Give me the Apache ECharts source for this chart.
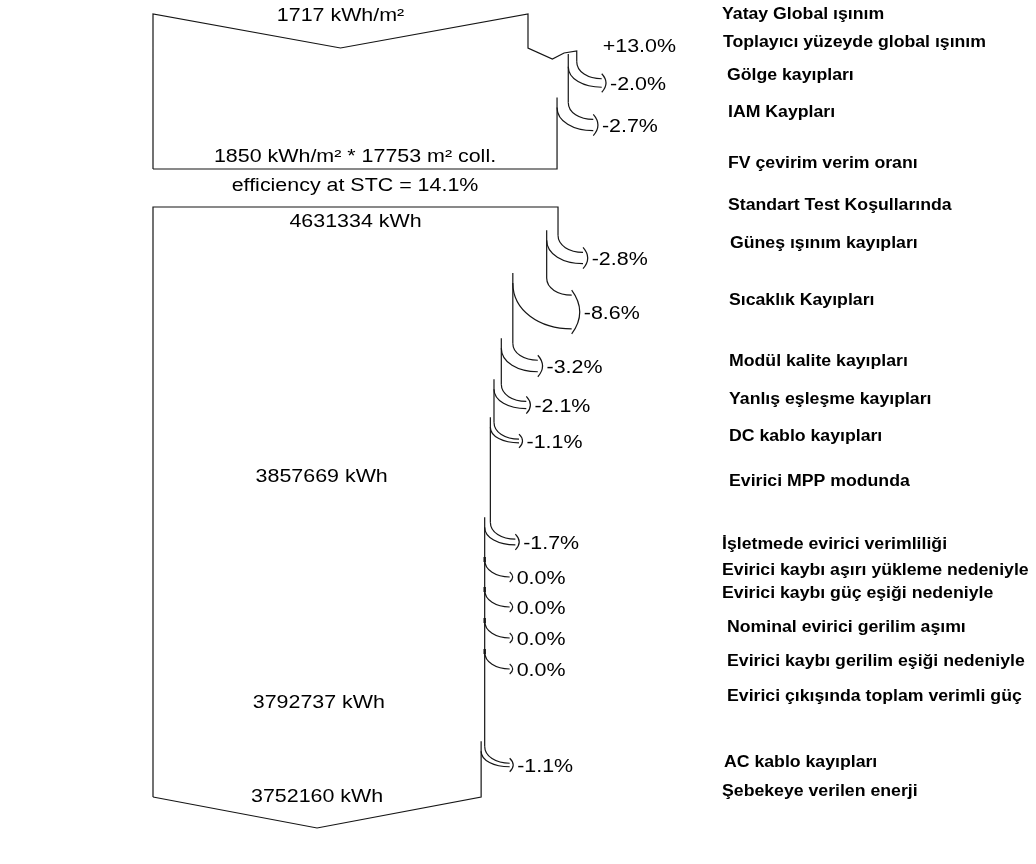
<!DOCTYPE html>
<html>
<head>
<meta charset="utf-8">
<script src="https://cdn.jsdelivr.net/npm/echarts/dist/echarts.min.js"></script>
<style>
html,body{margin:0;padding:0;background:#ffffff;}
#chart{width:1036px;height:864px;}
</style>
</head>
<body>
<div id="chart"></div>
<script>
// ---------------- DATA ----------------
const rightLabels = [
  'Yatay Global ışınım',
  'Toplayıcı yüzeyde global ışınım',
  'Gölge kayıpları',
  'IAM Kaypları',
  'FV çevirim verim oranı',
  'Standart Test Koşullarında',
  'Güneş ışınım kayıpları',
  'Sıcaklık Kayıpları',
  'Modül kalite kayıpları',
  'Yanlış eşleşme kayıpları',
  'DC kablo kayıpları',
  'Evirici MPP modunda',
  'İşletmede evirici verimliliği',
  'Evirici kaybı aşırı yükleme nedeniyle',
  'Evirici kaybı güç eşiği nedeniyle',
  'Nominal evirici gerilim aşımı',
  'Evirici kaybı gerilim eşiği nedeniyle',
  'Evirici çıkışında toplam verimli güç',
  'AC kablo kayıpları',
  'Şebekeye verilen enerji'
];
const globalHorizontal = 1717;            // kWh/m²
const irradianceChanges = [13.0, -2.0, -2.7]; // %
const collectorIrradiance = 1850;         // kWh/m²
const collectorArea = 17753;              // m²
const stcEfficiency = 14.1;               // %
const energyAtSTC = 4631334;              // kWh
const energyLosses = [-2.8, -8.6, -3.2, -2.1, -1.1, -1.7, 0.0, 0.0, 0.0, 0.0, -1.1]; // %
const energyMilestones = [3857669, 3792737, 3752160]; // kWh
const milestoneAfterLoss = [4, 5, 10];

// ---------------- LAYOUT (positions / sizes / styles) ----------------
const LAYOUT = {
  upperTop: 14, upperNotch: 34, upperBottom: 169, gainY: 48,
  upperLossY: [83, 125],
  lowerTop: 207, lowerBottom: 797, lowerNotch: 31,
  lowerLossY: [258, 312, 366, 405, 441, 542, 577, 607, 638, 669, 765],
  drop: 17, reach: 25,
  textY: { top: 16, coll: 157, eff: 186, stc: 222, milestones: [477, 703, 797], gain: 47 },
  rightX: [722,723,727,728,728,728,730,729,729,729,729,729,722,722,722,727,727,727,724,722],
  rightY: [15,43,76,113,164,206,244,301,362,400,437,482,545,571,594,628,662,697,763,792],
  line: '#151515',
  text: '#000000',
  font: '18px "Liberation Sans", Arial, sans-serif',
  boldFont: 'bold 16px "Liberation Sans", Arial, sans-serif',
  scaleX: 1.19, boldScaleX: 1.105
};

// ---------------- derived stage values ----------------
const upperStages = [globalHorizontal];
irradianceChanges.forEach(p => upperStages.push(upperStages[upperStages.length - 1] * (1 + p / 100)));
upperStages[upperStages.length - 1] = collectorIrradiance;

const lowerStages = [energyAtSTC];
energyLosses.forEach((p, i) => {
  let v = lowerStages[lowerStages.length - 1] * (1 + p / 100);
  const m = milestoneAfterLoss.indexOf(i);
  if (m >= 0) v = energyMilestones[m];
  lowerStages.push(v);
});

function fmtPct(p) {
  const s = Math.abs(p).toFixed(1) + '%';
  if (p > 0) return '+' + s;
  if (p < 0) return '-' + s;
  return s;
}

function lineStyle(w) { return { stroke: LAYOUT.line, lineWidth: w || 1.2, fill: null }; }
function txt(x, y, text, align, bold) {
  return {
    type: 'text', x: x, y: y,
    scaleX: bold ? LAYOUT.boldScaleX : LAYOUT.scaleX,
    style: { text: text, x: 0, y: 0, fill: LAYOUT.text, font: bold ? LAYOUT.boldFont : LAYOUT.font,
             align: align || 'center', verticalAlign: 'middle' }
  };
}
function bez(x1, y1, c1x, c1y, c2x, c2y, x2, y2, w) {
  return { type: 'bezierCurve', shape: { x1: x1, y1: y1, cpx1: c1x, cpy1: c1y, cpx2: c2x, cpy2: c2y, x2: x2, y2: y2 }, style: lineStyle(w) };
}

// loss band: value = [outerValue, innerValue, yLayout, pct]
function renderBand(params, api) {
  const xo = api.coord([api.value(0), 0])[0];
  const xi = api.coord([api.value(1), 0])[0];
  const yc = api.coord([0, api.value(2)])[1];
  const pct = api.value(3);
  const w = Math.max(xo - xi, 0);
  const xe = xo + LAYOUT.reach;
  const topY = yc - w / 2, botY = yc + w / 2;
  const yd = topY - LAYOUT.drop;
  const ch = [];
  ch.push(bez(xo, yd, xo, yd + 0.6 * (topY - yd), xo + 0.45 * (xe - xo), topY, xe, topY));
  if (w > 0.5) {
    const y0 = yd + 5;
    ch.push(bez(xi, y0, xi, y0 + 0.6 * (botY - y0), xi + 0.45 * (xe - xi), botY, xe, botY));
  } else {
    ch.push({ type: 'line', shape: { x1: xo, y1: yd - 3, x2: xo, y2: yd + 2 }, style: lineStyle(2.4) });
  }
  const b = 3 + w * 0.15;
  const hw = w / 2 + 5;
  ch.push({ type: 'bezierCurve', shape: { x1: xe, y1: yc - hw, cpx1: xe + 2 * b, cpy1: yc, x2: xe, y2: yc + hw }, style: lineStyle() });
  ch.push(txt(xe + b + 4, yc + 2, fmtPct(pct), 'left'));
  return { type: 'group', children: ch };
}

function renderUpperOutline(params, api) {
  const s = [0, 1, 2, 3].map(i => api.value(i));
  const X = v => api.coord([v, 0])[0];
  const Y = v => api.coord([0, v])[1];
  const xL = X(0), x0 = X(s[0]), x1 = X(s[1]), x2 = X(s[2]), x3 = X(s[3]);
  const top = Y(LAYOUT.upperTop), bot = Y(LAYOUT.upperBottom);
  const notch = Y(LAYOUT.upperTop + LAYOUT.upperNotch);
  const gy = Y(LAYOUT.gainY);
  const yd0 = Y(LAYOUT.upperLossY[0]) - (x1 - x2) / 2 - LAYOUT.drop;
  const yd1 = Y(LAYOUT.upperLossY[1]) - (x2 - x3) / 2 - LAYOUT.drop;
  const d = x1 - x0;
  const ch = [
    { type: 'polyline', shape: { points: [[xL, bot], [xL, top], [(xL + x0) / 2, notch], [x0, top], [x0, gy],
        [x0 + 0.5 * d, gy + 11], [x0 + 0.74 * d, gy + 5], [x1, gy + 3], [x1, yd0]] }, style: lineStyle() },
    { type: 'polyline', shape: { points: [[x2, gy + 6], [x2, yd1]] }, style: lineStyle() },
    { type: 'polyline', shape: { points: [[x3, yd1 - 5], [x3, bot], [xL, bot]] }, style: lineStyle() },
    txt((xL + x0) / 2, Y(LAYOUT.textY.top), globalHorizontal + ' kWh/m²'),
    txt((xL + x3) / 2, Y(LAYOUT.textY.coll), collectorIrradiance + ' kWh/m² * ' + collectorArea + ' m² coll.'),
    txt((xL + x3) / 2, Y(LAYOUT.textY.eff), 'efficiency at STC = ' + stcEfficiency.toFixed(1) + '%'),
    txt(x1 + 26, Y(LAYOUT.textY.gain), fmtPct(irradianceChanges[0]), 'left')
  ];
  return { type: 'group', children: ch };
}

function renderLowerOutline(params, api) {
  const n = lowerStages.length;
  const s = [];
  for (let i = 0; i < n; i++) s.push(api.value(i));
  const X = v => api.coord([v, 0])[0];
  const Y = v => api.coord([0, v])[1];
  const xL = X(0);
  const top = Y(LAYOUT.lowerTop), bot = Y(LAYOUT.lowerBottom);
  let curX = X(s[0]);
  const polys = [];
  let cur = [[xL, bot], [xL, top], [curX, top]];
  for (let i = 0; i < n - 1; i++) {
    const xo = X(s[i]), xi = X(s[i + 1]);
    const w = xo - xi;
    if (w > 0.5) {
      const yd = Y(LAYOUT.lowerLossY[i]) - w / 2 - LAYOUT.drop;
      cur.push([curX, yd]);
      polys.push(cur);
      curX = xi;
      cur = [[xi, yd - 5]];
    }
  }
  cur.push([curX, bot], [(xL + curX) / 2, bot + (Y(LAYOUT.lowerBottom + LAYOUT.lowerNotch) - bot)], [xL, bot]);
  polys.push(cur);
  const ch = polys.map(p => ({ type: 'polyline', shape: { points: p }, style: lineStyle() }));
  ch.push(txt((xL + X(s[0])) / 2, Y(LAYOUT.textY.stc), Math.round(s[0]) + ' kWh'));
  milestoneAfterLoss.forEach((li, m) => {
    const xr = X(s[li + 1]);
    ch.push(txt((xL + xr) / 2, Y(LAYOUT.textY.milestones[m]), energyMilestones[m] + ' kWh'));
  });
  return { type: 'group', children: ch };
}

function renderRightLabel(params, api) {
  const i = api.value(2);
  const y = api.coord([0, api.value(1)])[1];
  return txt(LAYOUT.rightX[i], y, rightLabels[i], 'left', true);
}

// ---------------- series data built from arrays ----------------
const upperBands = irradianceChanges.slice(1).map((p, k) => [upperStages[k + 1], upperStages[k + 2], LAYOUT.upperLossY[k], p]);
const lowerBands = energyLosses.map((p, i) => [lowerStages[i], lowerStages[i + 1], LAYOUT.lowerLossY[i], p]);

const chart = echarts.init(document.getElementById('chart'), null, { renderer: 'canvas' });
chart.setOption({
  animation: false,
  backgroundColor: '#ffffff',
  grid: { left: 153, right: 0, top: 0, bottom: 0 },
  xAxis: [
    { type: 'value', min: 0, max: 4043, show: false },      // kWh/m²
    { type: 'value', min: 0, max: 10097000, show: false }   // kWh
  ],
  yAxis: { type: 'value', min: 0, max: 864, inverse: true, show: false },
  series: [
    { type: 'custom', xAxisIndex: 0, renderItem: renderUpperOutline, data: [upperStages], silent: true, clip: false },
    { type: 'custom', xAxisIndex: 0, renderItem: renderBand, data: upperBands, silent: true, clip: false },
    { type: 'custom', xAxisIndex: 1, renderItem: renderLowerOutline, data: [lowerStages], silent: true, clip: false },
    { type: 'custom', xAxisIndex: 1, renderItem: renderBand, data: lowerBands, silent: true, clip: false },
    { type: 'custom', xAxisIndex: 0, renderItem: renderRightLabel,
      data: rightLabels.map((t, i) => [0, LAYOUT.rightY[i], i]), silent: true, clip: false }
  ]
});
</script>
</body>
</html>
